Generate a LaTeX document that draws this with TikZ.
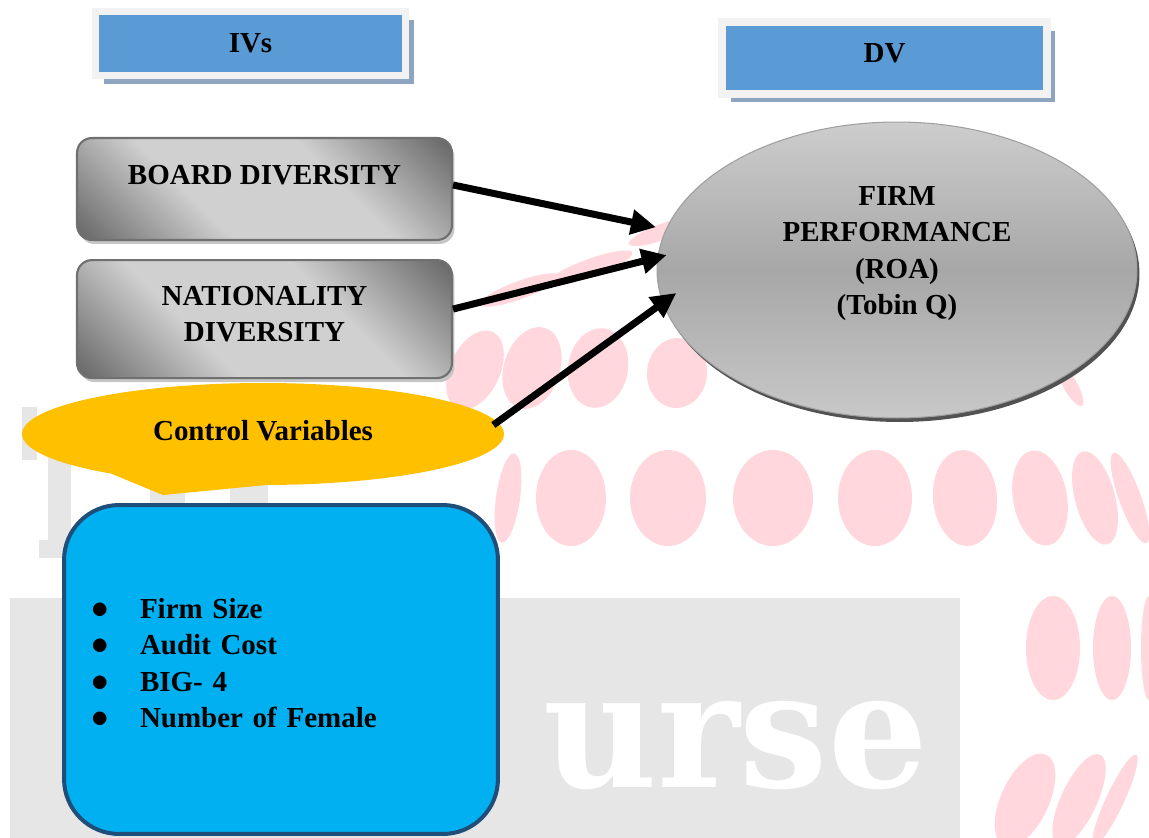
\documentclass[tikz,border=0pt]{standalone}
\usepackage{fontspec}
\setmainfont{Liberation Serif}
\newfontfamily\wmfont{DejaVu Serif}
\usetikzlibrary{arrows.meta, positioning, calc, shapes.geometric, shapes.callouts, shadows}

\definecolor{hdrblue}{HTML}{5B9BD5}
\definecolor{hdrframe}{HTML}{F2F2F2}
\definecolor{hdrshadow}{HTML}{8EA5C1}
\definecolor{boxdark}{HTML}{6B6B6B}
\definecolor{boxlight}{HTML}{D0D0D0}
\definecolor{boxline}{HTML}{707070}
\definecolor{perftop}{HTML}{CDCDCD}
\definecolor{perfmid}{HTML}{A7A7A7}
\definecolor{perflow}{HTML}{C8C8C8}
\definecolor{ctrlyellow}{HTML}{FFC000}
\definecolor{listblue}{HTML}{00B0F0}
\definecolor{listline}{HTML}{1F4E79}
\definecolor{wmpink}{HTML}{FFD7DD}
\definecolor{wmgray}{HTML}{E6E6E6}

\pgfdeclarehorizontalshading{ivshade}{100bp}{color(0bp)=(boxdark); color(16bp)=(boxdark);
  color(38bp)=(boxlight); color(62bp)=(boxlight); color(84bp)=(boxdark); color(100bp)=(boxdark)}
\pgfdeclareverticalshading{perfshade}{100bp}{color(0bp)=(perflow); color(25bp)=(perflow);
  color(50bp)=(perfmid); color(75bp)=(perftop); color(100bp)=(perftop)}

\newcommand{\listdot}{\makebox[0.98cm][l]{\scalebox{1.15}{$\bullet$}}}

\begin{document}
\begin{tikzpicture}[
    x=0.02cm, y=-0.02cm,
    every node/.style={font=\fontsize{16.5}{20.7}\selectfont\bfseries},
    header/.style={rectangle, fill=hdrblue, draw=hdrframe, line width=0.15cm,
      drop shadow={shadow xshift=0.17cm, shadow yshift=-0.17cm, fill=hdrshadow, opacity=1}},
    ivbox/.style={rectangle, rounded corners=0.3cm, draw=boxline, line width=1.2pt,
      shade, shading=ivshade, shading angle=45, minimum width=7.5cm, align=center,
      drop shadow={shadow xshift=0.05cm, shadow yshift=-0.08cm, fill=gray!45, opacity=1}},
    dvellipse/.style={ellipse, shade, shading=perfshade, draw=gray!75, line width=0.6pt,
      minimum width=9.6cm, minimum height=5.92cm, inner sep=0pt, align=center,
      drop shadow={shadow xshift=0.05cm, shadow yshift=-0.08cm, fill=black!68, opacity=1}},
    callbox/.style={ellipse callout, fill=ctrlyellow, minimum width=9.64cm, minimum height=2.04cm,
      inner sep=0pt, callout pointer arc=40},
    listbox/.style={rectangle, rounded corners=1.1cm, fill=listblue, draw=listline, line width=0.08cm,
      minimum width=8.68cm, minimum height=6.58cm, text width=7.6cm, align=left},
    wmtext/.style={inner sep=0pt, font=\wmfont\bfseries\fontsize{92}{92}\selectfont},
    arrow/.style={-{Triangle[length=0.5cm, width=0.48cm]}, line width=0.14cm}
  ]
  \useasboundingbox (0,0) rectangle (1149,838);

  % faint watermark behind the diagram
  \foreach \cx/\cy/\rx/\ry/\rot in {520/290/42/9/20, 590/268/45/9/20, 662/232/35/8/20,
      475/370/25/42/-25, 532/368/28/42/-18, 598/368/30/40/-10, 677/373/30/35/-5, 1070/385/7/24/30,
      508/498/12/45/-8, 571/498/35/48/0, 668/498/38/48/0, 773/498/40/48/0, 875/498/37/48/0,
      965/498/32/48/5, 1040/498/27/48/10, 1095/498/20/48/15, 1130/498/11/48/20,
      1053/648/27/52/0, 1112/648/19/52/0, 1149/648/8/52/0,
      1025/800/24/50/-25, 1079/800/18/50/-25, 1115/800/9/50/-25}
    \fill[wmpink, rotate around={\rot:(\cx,\cy)}] (\cx,\cy) ellipse [x radius=\rx, y radius=\ry];
  \fill[wmgray] (22,407) rectangle (37,460);
  \fill[wmgray] (48,440) rectangle (71,545);
  \fill[wmgray] (39,540) rectangle (82,558);
  \fill[wmgray] (150,485) rectangle (185,503);
  \fill[wmgray] (230,485) rectangle (268,503);
  \fill[wmgray] (10,598) rectangle (960,838);
  \node[wmtext, text=white, anchor=base west, xscale=0.97] (wmurse) at (543,787) {urse};

  % headers
  \node[header, minimum width=6.21cm, minimum height=1.29cm] (ivs) at (250.5,43.5) {IVs};
  \node[header, minimum width=6.5cm, minimum height=1.44cm, text depth=0.18cm] (dv) at (884.5,58) {DV};

  % independent variables
  \node[ivbox, minimum height=2.04cm, text depth=0.56cm] (board) at (264.5,189) {BOARD DIVERSITY};
  \node[ivbox, minimum height=2.36cm, text depth=0.2cm, below=0.36cm of board] (nat)
    {NATIONALITY\\ DIVERSITY};

  % dependent variable
  \node[dvellipse, text depth=0.78cm] (perf) at (897,270)
    {FIRM\\ PERFORMANCE\\ (ROA)\\ (Tobin Q)};

  % controls
  \node[callbox, callout absolute pointer={(163,495)}, text depth=0.16cm] (ctrl) at (263,434)
    {Control Variables};
  \node[listbox, text depth=2.45cm] (list) at (281,669.5)
    {\listdot Firm Size\\
     \listdot Audit Cost\\
     \listdot BIG- 4\\
     \listdot Number of Female};

  \draw[arrow, shorten >=0.2cm]   ([yshift=0.08cm]board.east) -- (perf.170);
  \draw[arrow, shorten >=-0.19cm] ([yshift=0.2cm]nat.east) -- (perf.177);
  \draw[arrow, shorten >=-0.34cm] ([shift={(-0.22cm,0.18cm)}]ctrl.east) -- (perf.188);
\end{tikzpicture}
\end{document}
